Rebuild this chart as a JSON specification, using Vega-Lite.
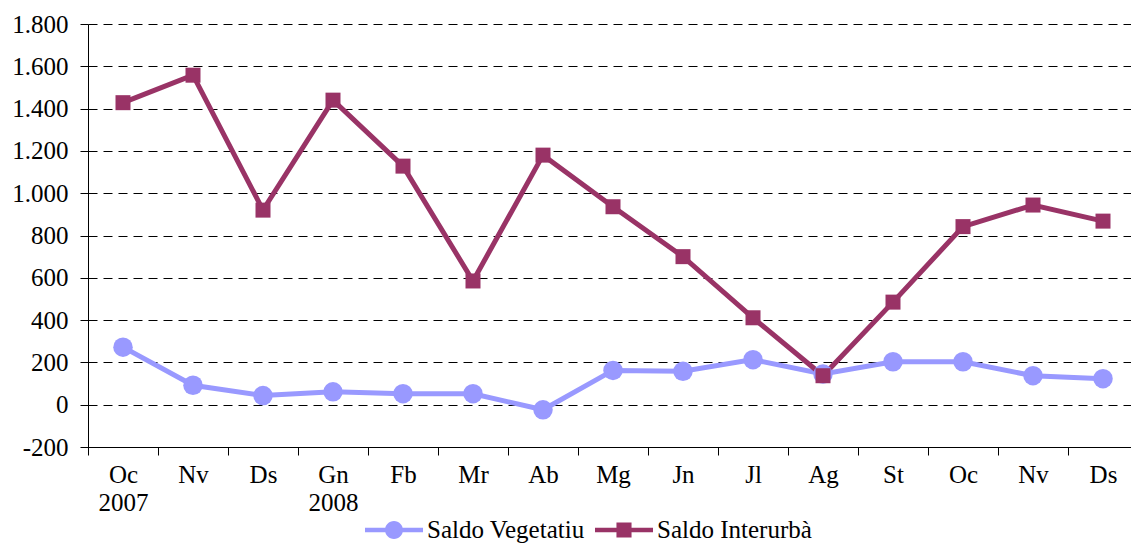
{
  "$schema": "https://vega.github.io/schema/vega-lite/v6.json",
  "autosize": "none",
  "padding": {"left": 88, "top": 24, "right": 0, "bottom": 99},
  "width": 1050,
  "height": 423,
  "background": "white",
  "config": {
    "view": {"stroke": null},
    "font": "Liberation Serif",
    "axis": {"labelFont": "Liberation Serif", "labelColor": "black", "domainColor": "black", "tickColor": "black"},
    "legend": {"labelFont": "Liberation Serif"}
  },
  "datasets": {
    "d": [
      {"m": "Oc 2007", "s": "Saldo Vegetatiu", "v": 272},
      {"m": "Nv 2007", "s": "Saldo Vegetatiu", "v": 92},
      {"m": "Ds 2007", "s": "Saldo Vegetatiu", "v": 43},
      {"m": "Gn 2008", "s": "Saldo Vegetatiu", "v": 61},
      {"m": "Fb 2008", "s": "Saldo Vegetatiu", "v": 52},
      {"m": "Mr 2008", "s": "Saldo Vegetatiu", "v": 52},
      {"m": "Ab 2008", "s": "Saldo Vegetatiu", "v": -24},
      {"m": "Mg 2008", "s": "Saldo Vegetatiu", "v": 162},
      {"m": "Jn 2008", "s": "Saldo Vegetatiu", "v": 158},
      {"m": "Jl 2008", "s": "Saldo Vegetatiu", "v": 213},
      {"m": "Ag 2008", "s": "Saldo Vegetatiu", "v": 145},
      {"m": "St 2008", "s": "Saldo Vegetatiu", "v": 203},
      {"m": "Oc 2008", "s": "Saldo Vegetatiu", "v": 203},
      {"m": "Nv 2008", "s": "Saldo Vegetatiu", "v": 137},
      {"m": "Ds 2008", "s": "Saldo Vegetatiu", "v": 123},
      {"m": "Oc 2007", "s": "Saldo Interurbà", "v": 1428},
      {"m": "Nv 2007", "s": "Saldo Interurbà", "v": 1558},
      {"m": "Ds 2007", "s": "Saldo Interurbà", "v": 920},
      {"m": "Gn 2008", "s": "Saldo Interurbà", "v": 1440},
      {"m": "Fb 2008", "s": "Saldo Interurbà", "v": 1128},
      {"m": "Mr 2008", "s": "Saldo Interurbà", "v": 585},
      {"m": "Ab 2008", "s": "Saldo Interurbà", "v": 1180},
      {"m": "Mg 2008", "s": "Saldo Interurbà", "v": 936},
      {"m": "Jn 2008", "s": "Saldo Interurbà", "v": 700},
      {"m": "Jl 2008", "s": "Saldo Interurbà", "v": 411},
      {"m": "Ag 2008", "s": "Saldo Interurbà", "v": 137},
      {"m": "St 2008", "s": "Saldo Interurbà", "v": 485},
      {"m": "Oc 2008", "s": "Saldo Interurbà", "v": 842},
      {"m": "Nv 2008", "s": "Saldo Interurbà", "v": 944},
      {"m": "Ds 2008", "s": "Saldo Interurbà", "v": 868}
    ]
  },
  "data": {"name": "d"},
  "encoding": {
    "x": {
      "field": "m", "type": "nominal", "sort": null,
      "scale": {"type": "band", "paddingInner": 0, "paddingOuter": 0},
      "axis": {
        "title": null, "labelAngle": 0, "tickBand": "extent", "tickSize": 8,
        "labelFont": "Liberation Serif", "labelFontSize": 25, "labelPadding": 7, "labelLineHeight": 28,
        "labelExpr": "!isValid(datum.value) ? '' : ((datum.value == 'Oc 2007' || datum.value == 'Gn 2008') ? split(datum.value, ' ') : split(datum.value, ' ')[0])",
        "domainColor": "black", "domainWidth": 1, "grid": false
      }
    },
    "y": {
      "field": "v", "type": "quantitative",
      "scale": {"domain": [-200, 1800], "nice": false, "zero": false},
      "axis": {
        "title": null, "values": [-200, 0, 200, 400, 600, 800, 1000, 1200, 1400, 1600, 1800],
        "labelExpr": "(datum.value < 0 ? '-' : '') + replace(format(abs(datum.value), ','), ',', '.')",
        "labelFont": "Liberation Serif", "labelFontSize": 25, "labelPadding": 12, "tickSize": 8,
        "grid": true, "gridColor": "black", "gridDash": [9, 6], "gridWidth": 1, "gridOpacity": 1,
        "domainColor": "black"
      }
    }
  },
  "layer": [
    {
      "transform": [{"filter": "datum.s == 'Saldo Vegetatiu'"}],
      "mark": {"type": "line", "strokeWidth": 5, "color": "#9999FF"},
      "encoding": {}
    },
    {
      "transform": [{"filter": "datum.s == 'Saldo Interurbà'"}],
      "mark": {"type": "line", "strokeWidth": 5, "color": "#993366"},
      "encoding": {}
    },
    {
      "transform": [{"filter": "datum.s == 'Saldo Vegetatiu'"}],
      "mark": {"type": "point", "shape": "circle", "filled": true, "opacity": 1, "size": 380, "color": "#9999FF"}
    },
    {
      "transform": [{"filter": "datum.s == 'Saldo Interurbà'"}],
      "mark": {"type": "point", "shape": "square", "filled": true, "opacity": 1, "size": 225, "color": "#993366"}
    },
    {
      "transform": [{"filter": "false"}],
      "mark": {"type": "point", "filled": true, "opacity": 1},
      "encoding": {
        "color": {"field": "s", "type": "nominal", "scale": {"domain": ["Saldo Vegetatiu", "Saldo Interurbà"], "range": ["#9999FF", "#993366"]},
          "legend": {
            "title": null, "orient": "none", "direction": "horizontal", "legendX": 277, "legendY": 477,
            "symbolSize": 3364, "symbolOpacity": 1, "symbolStrokeWidth": 0,
            "labelFont": "Liberation Serif", "labelFontSize": 25, "labelColor": "black",
            "labelOffset": 4, "columnPadding": 10
          }
        },
        "shape": {"field": "s", "type": "nominal", "scale": {"domain": ["Saldo Vegetatiu", "Saldo Interurbà"], "range": [
          "M-1,-0.08H-0.25V0.08H-1Z M0.25,-0.08H1V0.08H0.25Z M0.31,0A0.31,0.31 0 1,1 -0.31,0A0.31,0.31 0 1,1 0.31,0Z",
          "M-1,-0.08H-0.22V0.08H-1Z M0.22,-0.08H1V0.08H0.22Z M-0.26,-0.26H0.26V0.26H-0.26Z"
        ]}}
      }
    }
  ]
}
